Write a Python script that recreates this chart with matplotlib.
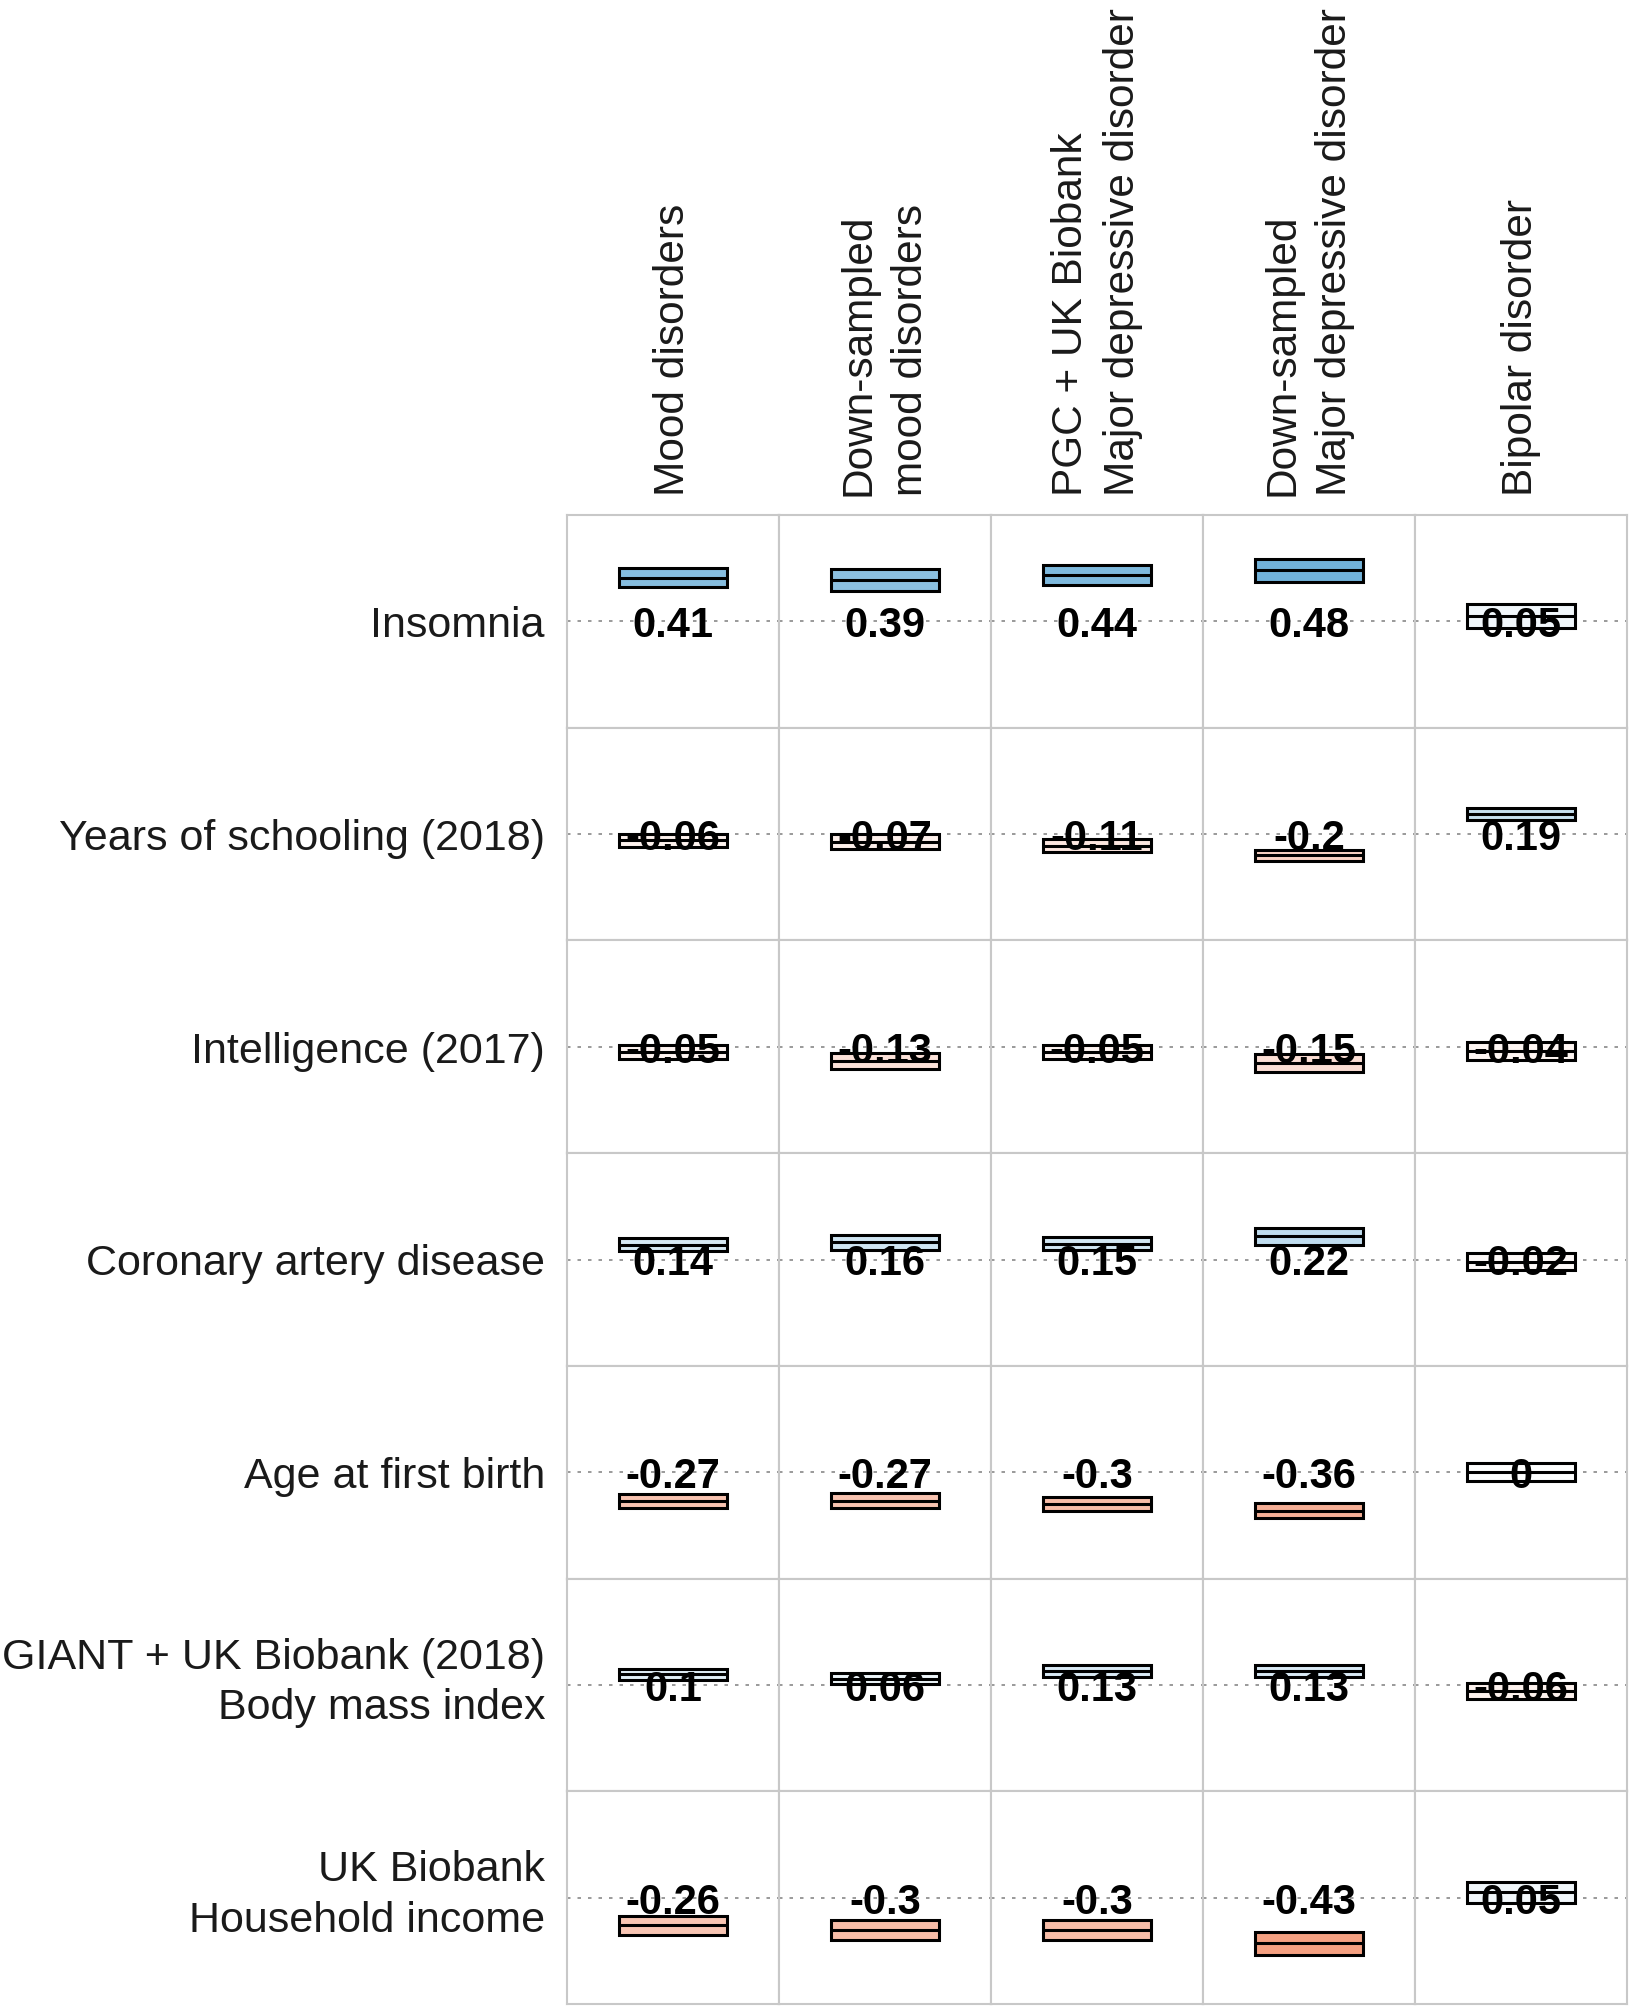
import matplotlib
matplotlib.use("Agg")
import matplotlib.pyplot as plt
from matplotlib.colors import LinearSegmentedColormap, Normalize
from matplotlib.patches import Rectangle

plt.rcParams['font.family'] = ['Liberation Sans', 'DejaVu Sans']

traits = ["Insomnia",
          "Years of schooling (2018)",
          "Intelligence (2017)",
          "Coronary artery disease",
          "Age at first birth",
          "GIANT + UK Biobank (2018)\nBody mass index",
          "UK Biobank\nHousehold income"]

disorders = ["Mood disorders",
             "Down-sampled\nmood disorders",
             "PGC + UK Biobank\nMajor depressive disorder",
             "Down-sampled\nMajor depressive disorder",
             "Bipolar disorder"]

# genetic correlations, one list per disorder (rows follow traits)
rg_mood = [0.41, -0.06, -0.05, 0.14, -0.27, 0.1, -0.26]
rg_mood_ds = [0.39, -0.07, -0.13, 0.16, -0.27, 0.06, -0.3]
rg_mdd = [0.44, -0.11, -0.05, 0.15, -0.3, 0.13, -0.3]
rg_mdd_ds = [0.48, -0.2, -0.15, 0.22, -0.36, 0.13, -0.43]
rg_bip = [0.05, 0.19, -0.04, -0.02, 0, -0.06, 0.05]

# half-height of the crossbars (standard errors)
se_mood = [0.09, 0.063, 0.066, 0.063, 0.066, 0.052, 0.091]
se_mood_ds = [0.105, 0.07, 0.075, 0.071, 0.07, 0.055, 0.094]
se_mdd = [0.094, 0.06, 0.063, 0.063, 0.065, 0.06, 0.094]
se_mdd_ds = [0.108, 0.052, 0.083, 0.079, 0.075, 0.06, 0.107]
se_bip = [0.11, 0.058, 0.086, 0.079, 0.082, 0.075, 0.10]

rg_cols = [rg_mood, rg_mood_ds, rg_mdd, rg_mdd_ds, rg_bip]
se_cols = [se_mood, se_mood_ds, se_mdd, se_mdd_ds, se_bip]

cmap = LinearSegmentedColormap.from_list("rg", ["#ef7a50", "white", "#4f9fd0"])
norm = Normalize(-0.6, 0.6)

W, H = 1636, 2010
fig = plt.figure(figsize=(W / 100, H / 100), dpi=100)

left, right, top, bottom = 567 / W, 1627 / W, 1 - 515 / H, 1 - 2004 / H
nrow, ncol = len(traits), len(disorders)
cw = (right - left) / ncol
ch = (top - bottom) / nrow

bar_half = 0.51
for i, trait in enumerate(traits):
    for j in range(ncol):
        ax = fig.add_axes([left + j * cw, top - (i + 1) * ch, cw, ch])
        ax.set_xlim(-1, 1)
        ax.set_ylim(-1, 1)
        ax.set_xticks([])
        ax.set_yticks([])
        for sp in ax.spines.values():
            sp.set_color("#c8c8c8")
            sp.set_linewidth(1.5)
        ax.axhline(0, color="#9a9a9a", lw=1.4, linestyle=(0, (1.8, 3.6)), zorder=1)

        v = rg_cols[j][i]
        s = se_cols[j][i]
        ax.add_patch(Rectangle((-bar_half, v - s), 2 * bar_half, 2 * s,
                               facecolor=cmap(norm(v)), edgecolor="black",
                               lw=2.2, zorder=2))
        ax.plot([-bar_half, bar_half], [v, v], color="black", lw=2.2, zorder=3,
                solid_capstyle="butt")
        # baseline placed so the digits sit centred on the zero line
        ax.text(0, -0.15, f"{v:g}", ha="center", va="baseline", fontsize=30,
                fontweight="bold", color="black", zorder=4)

        if j == 0:
            # single lines: centre the capitals on the zero line
            shift = 5 if "\n" not in trait else -2
            fig.text(545 / W, top - (i + 0.5) * ch - shift / H, trait, ha="right",
                     va="center", fontsize=31, color="#1a1a1a",
                     multialignment="right", linespacing=1.35)

for j, dis in enumerate(disorders):
    fig.text(left + (j + 0.5) * cw, 1 - 496 / H, dis, rotation=90,
             ha="center", va="bottom", fontsize=30.5, color="#1a1a1a",
             multialignment="left", linespacing=1.4)

fig.savefig("out.png", dpi=100)
